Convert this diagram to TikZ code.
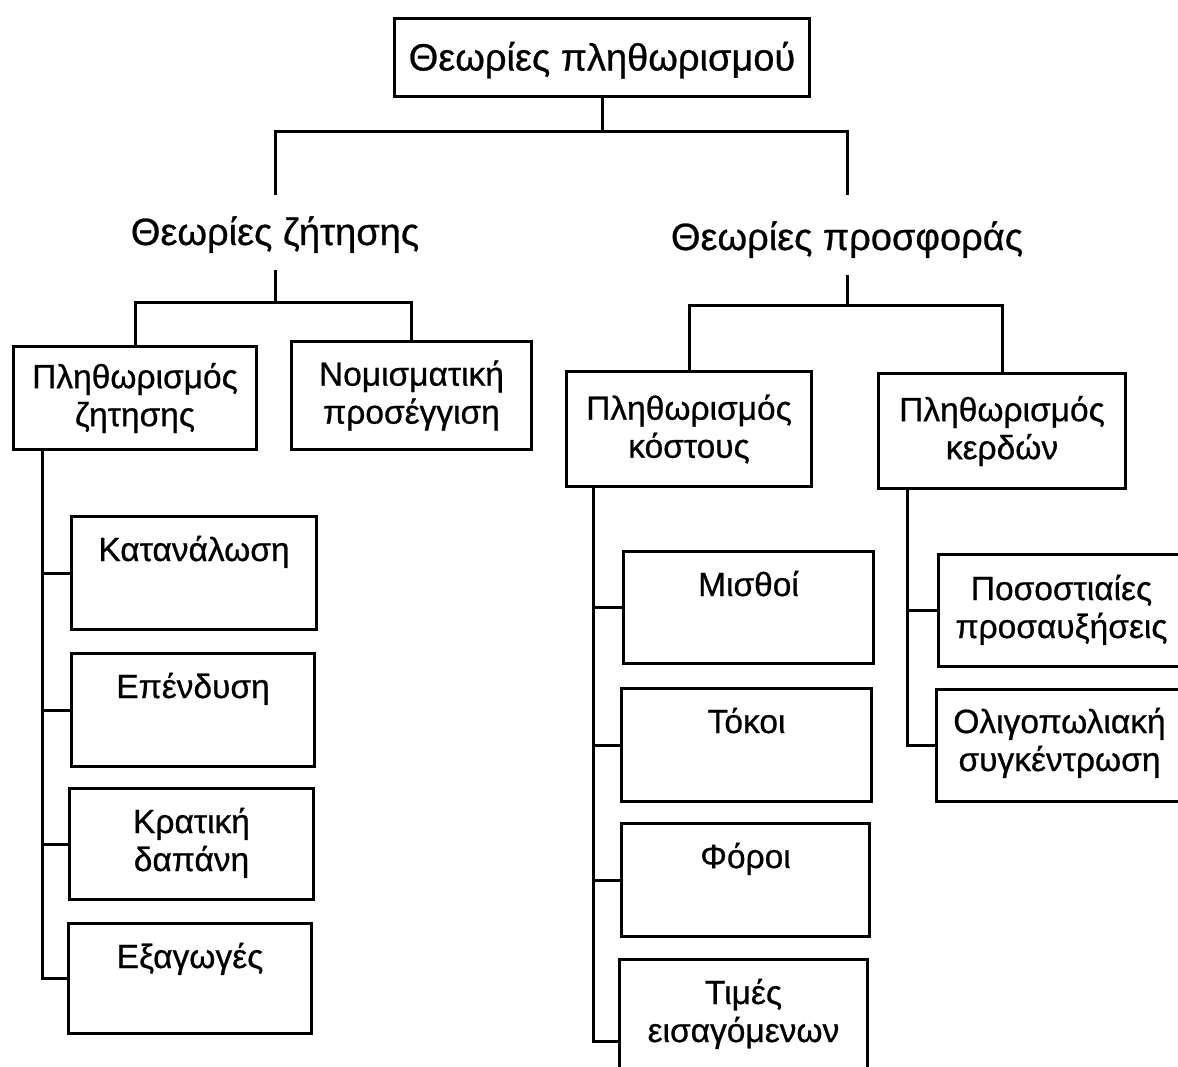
\documentclass[tikz,border=0pt]{standalone}
\usepackage{fontspec}
\setmainfont[FakeBold=0.7]{Liberation Sans}
\usetikzlibrary{calc}
\begin{document}
\begin{tikzpicture}[x=1pt,y=-1pt,
  bx/.style={draw, line width=3pt, rectangle, inner sep=0pt, anchor=north west},
  big/.style={font=\fontsize{38}{44}\selectfont},
  lbl/.style={font=\fontsize{33.5}{38}\selectfont, align=center},
  ln/.style={line width=3pt},
  head/.style={big, anchor=base, text height=30pt, text depth=5pt, inner xsep=0pt, inner ysep=20pt},
  toptxt/.style={lbl, anchor=base, inner sep=0pt}]
\useasboundingbox[fill=white] (0,0) rectangle (1178,1066);

% top
\node[bx, big, minimum width=415, minimum height=78, text height=26pt, text depth=0pt] (top) at (393,17) {Θεωρίες πληθωρισμού};

% headings
\node[head] (dem) at (275,245) {Θεωρίες ζήτησης};
\node[head, text depth=0pt, inner ysep=25pt] (sup) at (847,250) {Θεωρίες προσφοράς};

% second level boxes
\node[bx, lbl, minimum width=243, minimum height=103] (pz) at (12,345) {Πληθωρισμός\\ζητησης};
\node[bx, lbl, minimum width=240, minimum height=108] (np) at (290,340) {Νομισματική\\προσέγγιση};
\node[bx, lbl, minimum width=245, minimum height=115] (pk) at (565,370) {Πληθωρισμός\\κόστους};
\node[bx, lbl, minimum width=247, minimum height=115] (pker) at (877,372) {Πληθωρισμός\\κερδών};

% demand sub-boxes
\node[bx, minimum width=245, minimum height=113] (kat) at (70,515) {};
\node[bx, minimum width=243, minimum height=113] (ep) at (70,652) {};
\node[bx, minimum width=244, minimum height=111] (kr) at (68,787) {};
\node[bx, minimum width=243, minimum height=110] (ex) at (67,922) {};
\node[toptxt] (katT) at ($(kat.north)+(0,46)$) {Κατανάλωση};
\node[toptxt] (epT) at ($(ep.north)+(0,46)$) {Επένδυση};
\node[toptxt] (krT) at ($(kr.north)+(0,84)$) {Κρατική\\δαπάνη};
\node[toptxt] (exT) at ($(ex.north)+(0,46)$) {Εξαγωγές};

% cost sub-boxes
\node[bx, minimum width=250, minimum height=112] (mis) at (622,550) {};
\node[bx, minimum width=250, minimum height=113] (tok) at (620,687) {};
\node[bx, minimum width=248, minimum height=113] (for) at (620,822) {};
\node[bx, minimum width=248, minimum height=164] (tim) at (618,958) {};
\node[toptxt] (misT) at ($(mis.north)+(0,46)$) {Μισθοί};
\node[toptxt] (tokT) at ($(tok.north)+(0,46)$) {Τόκοι};
\node[toptxt] (forT) at ($(for.north)+(0,46)$) {Φόροι};
\node[toptxt] (timT) at ($(tim.north)+(0,84)$) {Τιμές\\εισαγόμενων};

% profit sub-boxes
\node[bx, minimum width=246, minimum height=112] (pos) at (937,553) {};
\node[bx, minimum width=246, minimum height=112] (oli) at (935,688) {};
\node[toptxt] (posT) at ($(pos.north)+(0,85)$) {Ποσοστιαίες\\προσαυξήσεις};
\node[toptxt] (oliT) at ($(oli.north)+(0,83)$) {Ολιγοπωλιακή\\συγκέντρωση};

% connectors
\draw[ln] (top.south) -- ++(0,33) coordinate (t1) -| (dem.north);
\draw[ln] (t1) -| (sup.north);
\draw[ln] (dem.south) -- ++(0,32) coordinate (d1) -| (pz.north);
\draw[ln] (d1) -| (np.north);
\draw[ln] (sup.south) -- ++(0,30) coordinate (s1) -| (pk.north);
\draw[ln] (s1) -| (pker.north);

\coordinate (lb) at ($(pz.south west)+(30,0)$);
\draw[ln] (lb) |- (ex.west);
\foreach \b in {kat,ep,kr} \draw[ln] (lb |- \b.west) -- (\b.west);

\coordinate (cb) at ($(pk.south west)+(28,0)$);
\draw[ln] (cb) |- (tim.west);
\foreach \b in {mis,tok,for} \draw[ln] (cb |- \b.west) -- (\b.west);

\coordinate (pb) at ($(pker.south west)+(30,0)$);
\draw[ln] (pb) |- (oli.west);
\draw[ln] (pb |- pos.west) -- (pos.west);
\end{tikzpicture}
\end{document}
